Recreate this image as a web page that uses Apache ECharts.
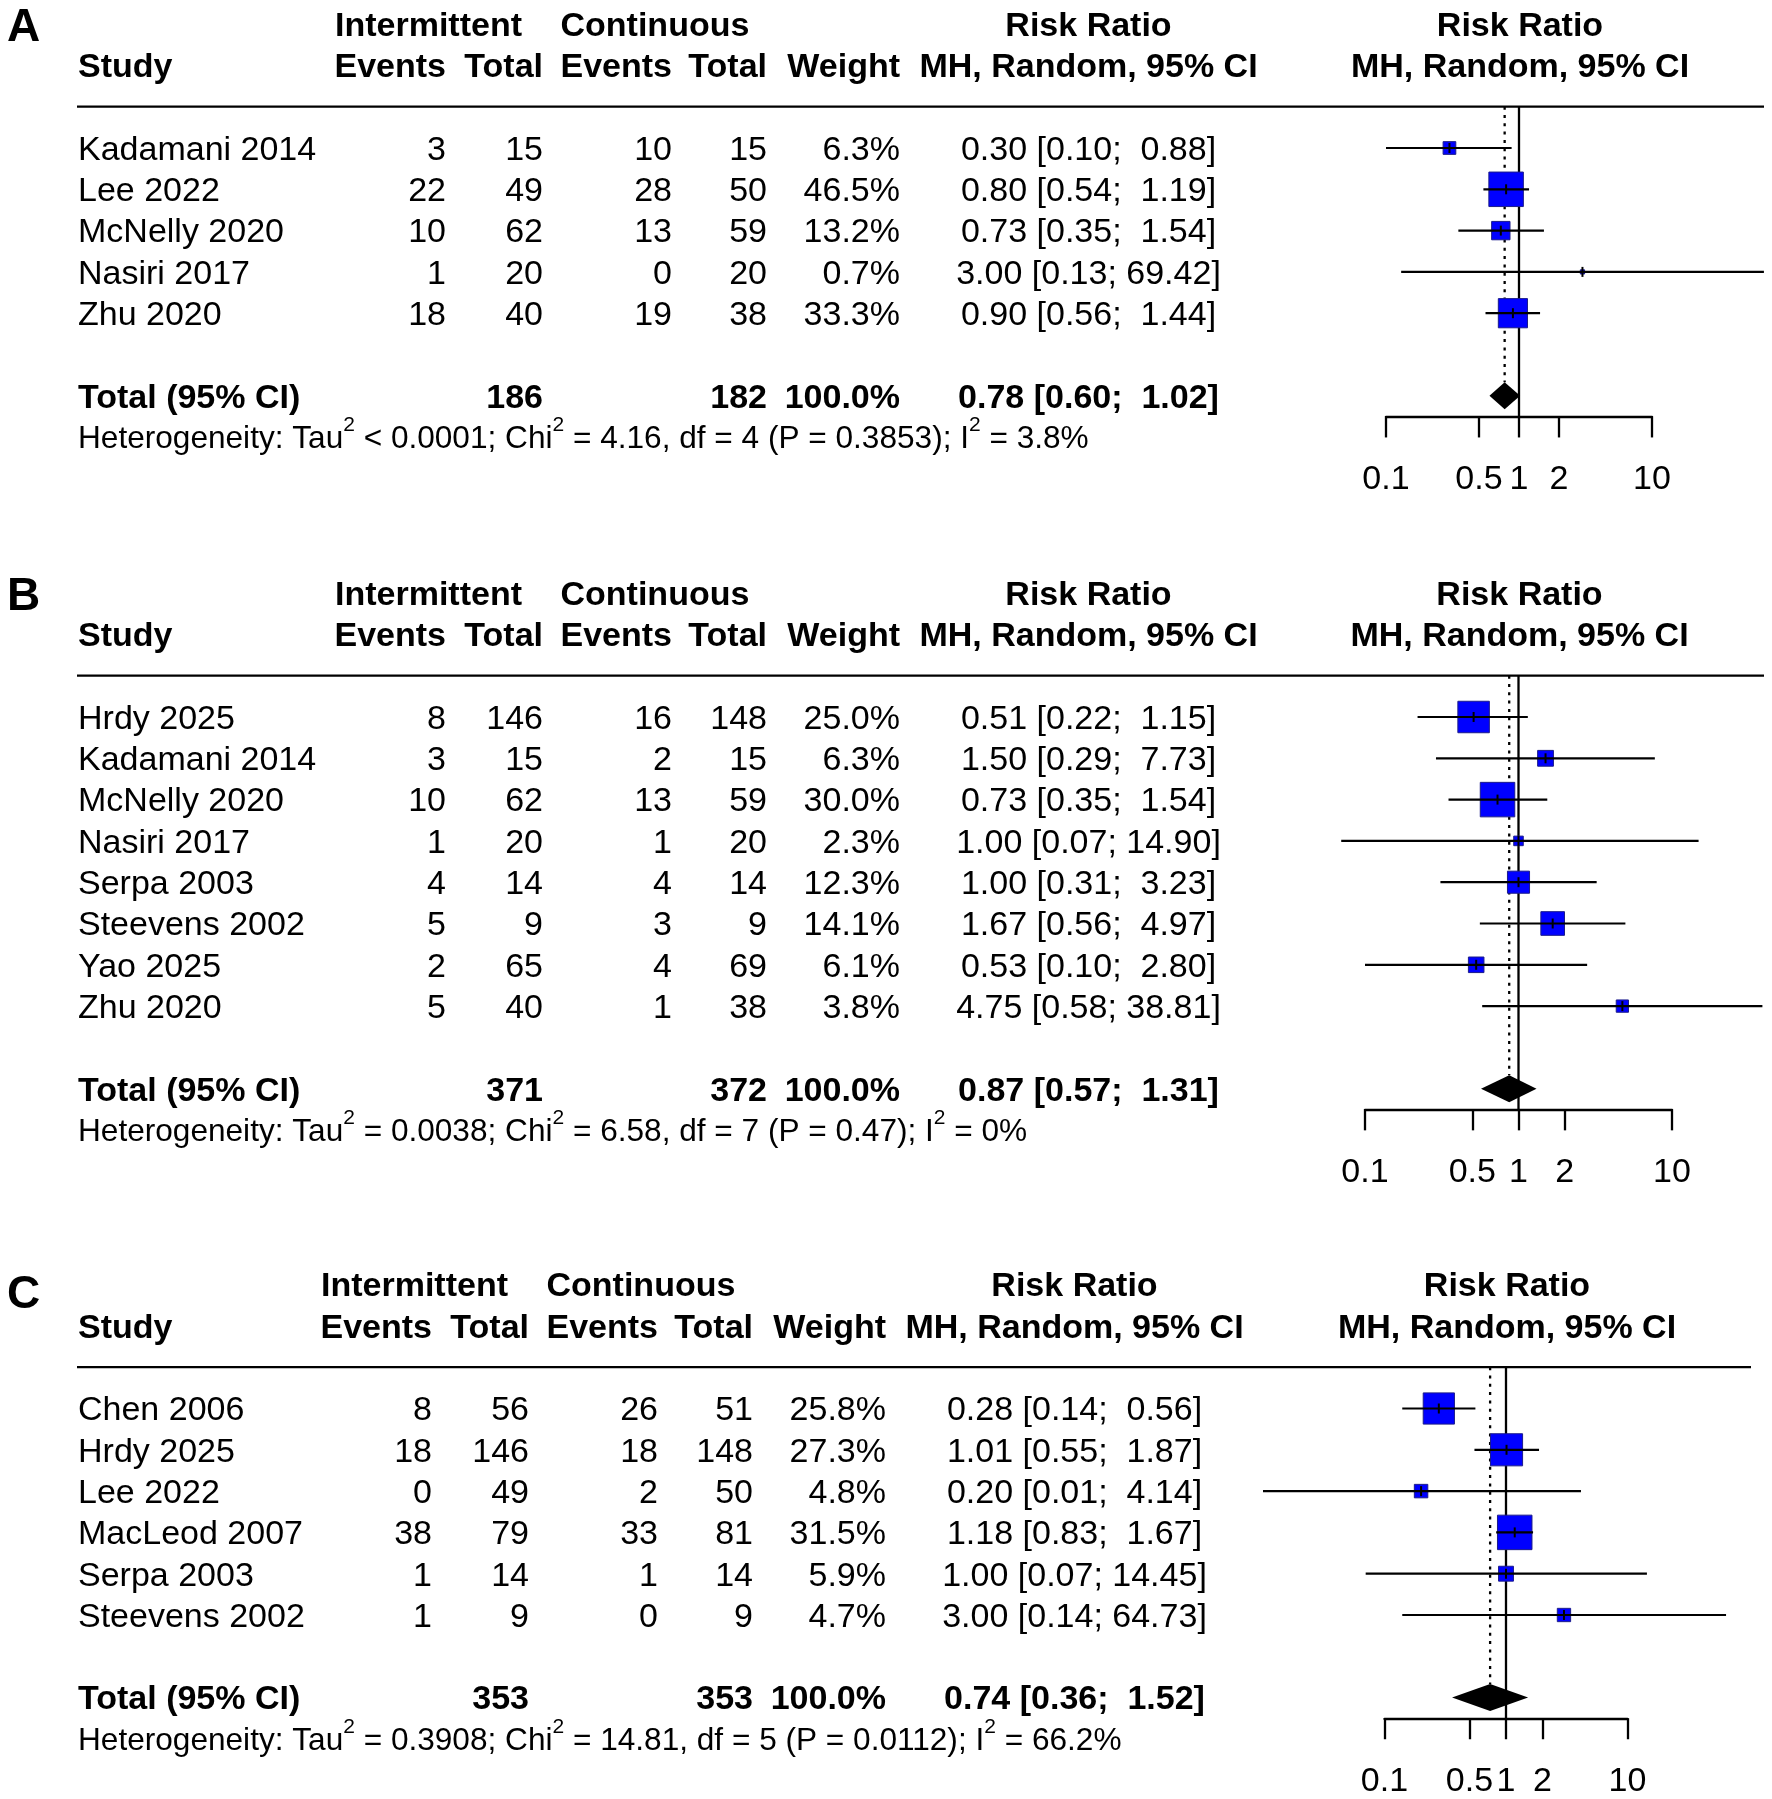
<!DOCTYPE html>
<html>
<head>
<meta charset="utf-8">
<script src="https://cdn.jsdelivr.net/npm/echarts@6/dist/echarts.min.js"></script>
<style>
html,body{margin:0;padding:0;background:#ffffff;}
#chart{width:1772px;height:1799px;}
</style>
</head>
<body>
<div id="chart"></div>
<script>
// ================= DATA =================
// Panel A
const studiesA   = ["Kadamani 2014", "Lee 2022", "McNelly 2020", "Nasiri 2017", "Zhu 2020"];
const intEventsA = [3, 22, 10, 1, 18];
const intTotalA  = [15, 49, 62, 20, 40];
const contEventsA= [10, 28, 13, 0, 19];
const contTotalA = [15, 50, 59, 20, 38];
const weightA    = [6.3, 46.5, 13.2, 0.7, 33.3];
const rrA        = [0.30, 0.80, 0.73, 3.00, 0.90];
const lowerA     = [0.10, 0.54, 0.35, 0.13, 0.56];
const upperA     = [0.88, 1.19, 1.54, 69.42, 1.44];
const totalA     = {int: 186, cont: 182, weight: 100.0, rr: 0.78, lo: 0.60, hi: 1.02};
const hetA       = "Heterogeneity: Tau² < 0.0001; Chi² = 4.16, df = 4 (P = 0.3853); I² = 3.8%";

// Panel B
const studiesB   = ["Hrdy 2025", "Kadamani 2014", "McNelly 2020", "Nasiri 2017", "Serpa 2003", "Steevens 2002", "Yao 2025", "Zhu 2020"];
const intEventsB = [8, 3, 10, 1, 4, 5, 2, 5];
const intTotalB  = [146, 15, 62, 20, 14, 9, 65, 40];
const contEventsB= [16, 2, 13, 1, 4, 3, 4, 1];
const contTotalB = [148, 15, 59, 20, 14, 9, 69, 38];
const weightB    = [25.0, 6.3, 30.0, 2.3, 12.3, 14.1, 6.1, 3.8];
const rrB        = [0.51, 1.50, 0.73, 1.00, 1.00, 1.67, 0.53, 4.75];
const lowerB     = [0.22, 0.29, 0.35, 0.07, 0.31, 0.56, 0.10, 0.58];
const upperB     = [1.15, 7.73, 1.54, 14.90, 3.23, 4.97, 2.80, 38.81];
const totalB     = {int: 371, cont: 372, weight: 100.0, rr: 0.87, lo: 0.57, hi: 1.31};
const hetB       = "Heterogeneity: Tau² = 0.0038; Chi² = 6.58, df = 7 (P = 0.47); I² = 0%";

// Panel C
const studiesC   = ["Chen 2006", "Hrdy 2025", "Lee 2022", "MacLeod 2007", "Serpa 2003", "Steevens 2002"];
const intEventsC = [8, 18, 0, 38, 1, 1];
const intTotalC  = [56, 146, 49, 79, 14, 9];
const contEventsC= [26, 18, 2, 33, 1, 0];
const contTotalC = [51, 148, 50, 81, 14, 9];
const weightC    = [25.8, 27.3, 4.8, 31.5, 5.9, 4.7];
const rrC        = [0.28, 1.01, 0.20, 1.18, 1.00, 3.00];
const lowerC     = [0.14, 0.55, 0.01, 0.83, 0.07, 0.14];
const upperC     = [0.56, 1.87, 4.14, 1.67, 14.45, 64.73];
const totalC     = {int: 353, cont: 353, weight: 100.0, rr: 0.74, lo: 0.36, hi: 1.52};
const hetC       = "Heterogeneity: Tau² = 0.3908; Chi² = 14.81, df = 5 (P = 0.0112); I² = 66.2%";

// Axis / labels
const axisTickValues = [0.1, 0.5, 1, 2, 10];
const refValue = 1;
const panelLetters = ["A", "B", "C"];
const groupHeaders = ["Intermittent", "Continuous"];
const colHeaders = ["Study", "Events", "Total", "Events", "Total", "Weight"];
const effectHeader = ["Risk Ratio", "MH, Random, 95% CI"];
const totalLabel = "Total (95% CI)";

// ================= LAYOUT =================
const W = 1772, H = 1799;
const FONT = "'Liberation Sans', Arial, Helvetica, sans-serif";
const RH = 41.3;             // row height (px)
const FS = 34;               // main font size
const HET_FS = 31.6;
const SUP_FS = 21;
const SUP_RAISE = 14;
const SQ = 34.5;             // side of the largest square
const DH = 13.5;             // diamond half height
const LW = 2.3;
const TDY = 2.5;             // text vertical nudge
const layouts = [
  {row0: 148,    x1: 1519,   dec: 133,   shift: 0,   ruleEnd: 1764, letterY: 28},
  {row0: 717,    x1: 1518.5, dec: 153.5, shift: 0,   ruleEnd: 1764, letterY: 597},
  {row0: 1408.5, x1: 1506,   dec: 121.5, shift: -14, ruleEnd: 1751, letterY: 1295}
];
const COLS = {study: 78, ie: 446, it: 543, ce: 672, ct: 767, w: 900, ci: 1088.5, grpI: 335, grpC: 560.5};

const panelsData = [
  {studies: studiesA, ie: intEventsA, it: intTotalA, ce: contEventsA, ct: contTotalA, w: weightA, rr: rrA, lo: lowerA, hi: upperA, tot: totalA, het: hetA},
  {studies: studiesB, ie: intEventsB, it: intTotalB, ce: contEventsB, ct: contTotalB, w: weightB, rr: rrB, lo: lowerB, hi: upperB, tot: totalB, het: hetB},
  {studies: studiesC, ie: intEventsC, it: intTotalC, ce: contEventsC, ct: contTotalC, w: weightC, rr: rrC, lo: lowerC, hi: upperC, tot: totalC, het: hetC}
];

const f2 = v => v.toFixed(2);
const ciText = (r, l, h) => f2(r) + " [" + f2(l) + "; " + f2(h).padStart(5, " ") + "]";
const lg = v => Math.log10(v);
const tickLogs = axisTickValues.map(v => +lg(v).toFixed(10));

function richHet(str) {
  return "{n|" + str.split("²").join("}{s|2}{n|") + "}";
}
const hetRich = {
  n: {fontSize: HET_FS, fontFamily: FONT, fill: "#000", lineHeight: 40},
  s: {fontSize: SUP_FS, fontFamily: FONT, fill: "#000", lineHeight: 22, padding: [0, 0, 2 * SUP_RAISE, 0]}
};

const grids = [], xAxes = [], yAxes = [], series = [], graphics = [];

panelsData.forEach((P, p) => {
  const L = layouts[p];
  const n = P.studies.length;
  const s = L.shift;
  const maxW = Math.max.apply(null, P.w);

  // ---------- table grid ----------
  const gT = grids.length;
  grids.push({left: 0, top: L.row0 - 3.5 * RH, width: W, height: (n + 6) * RH, containLabel: false, outerBoundsMode: "none"});
  xAxes.push({gridIndex: gT, type: "value", min: 0, max: W, show: false});
  yAxes.push({gridIndex: gT, type: "value", min: -3.5, max: n + 2.5, inverse: true, show: false});

  const cells = [];
  const add = (x, row, text, align, bold, extra) => cells.push(Object.assign({kind: "text", x, row, text, align, bold}, extra || {}));
  // header rows
  add(COLS.grpI + s, -3, groupHeaders[0], "left", true);
  add(COLS.grpC + s, -3, groupHeaders[1], "left", true);
  add(COLS.ci + s, -3, effectHeader[0], "center", true);
  add(L.x1 + 1, -3, effectHeader[0], "center", true);
  add(COLS.study, -2, colHeaders[0], "left", true);
  add(COLS.ie + s, -2, colHeaders[1], "right", true);
  add(COLS.it + s, -2, colHeaders[2], "right", true);
  add(COLS.ce + s, -2, colHeaders[3], "right", true);
  add(COLS.ct + s, -2, colHeaders[4], "right", true);
  add(COLS.w + s, -2, colHeaders[5], "right", true);
  add(COLS.ci + s, -2, effectHeader[1], "center", true);
  add(L.x1 + 1, -2, effectHeader[1], "center", true);
  cells.push({kind: "rule", x: COLS.study - 1, x2: L.ruleEnd, row: -1});
  // study rows
  P.studies.forEach((name, i) => {
    add(COLS.study, i, name, "left", false);
    add(COLS.ie + s, i, String(P.ie[i]), "right", false);
    add(COLS.it + s, i, String(P.it[i]), "right", false);
    add(COLS.ce + s, i, String(P.ce[i]), "right", false);
    add(COLS.ct + s, i, String(P.ct[i]), "right", false);
    add(COLS.w + s, i, P.w[i].toFixed(1) + "%", "right", false);
    add(COLS.ci + s, i, ciText(P.rr[i], P.lo[i], P.hi[i]), "center", false);
  });
  // total row
  add(COLS.study, n + 1, totalLabel, "left", true);
  add(COLS.it + s, n + 1, String(P.tot.int), "right", true);
  add(COLS.ct + s, n + 1, String(P.tot.cont), "right", true);
  add(COLS.w + s, n + 1, P.tot.weight.toFixed(1) + "%", "right", true);
  add(COLS.ci + s, n + 1, ciText(P.tot.rr, P.tot.lo, P.tot.hi), "center", true);
  // heterogeneity
  add(COLS.study, n + 2, richHet(P.het), "left", false, {rich: hetRich});

  series.push({
    type: "custom", coordinateSystem: "cartesian2d", xAxisIndex: gT, yAxisIndex: gT,
    clip: false, silent: true, z: 5,
    data: cells.map((c, i) => [c.x, c.row, i]),
    renderItem: function (params, api) {
      const c = cells[api.value(2)];
      const pt = api.coord([api.value(0), api.value(1)]);
      if (c.kind === "rule") {
        const pt2 = api.coord([c.x2, c.row]);
        return {type: "line", shape: {x1: pt[0], y1: pt[1], x2: pt2[0], y2: pt2[1]}, style: {stroke: "#000", lineWidth: LW}};
      }
      const style = {
        text: c.text, fill: "#000",
        font: (c.bold ? "bold " : "") + FS + "px " + FONT,
        align: c.align, textAlign: c.align,
        verticalAlign: "middle", textVerticalAlign: "middle"
      };
      if (c.rich) style.rich = c.rich;
      return {type: "text", x: pt[0], y: pt[1] + TDY, style: style};
    }
  });

  // ---------- forest grid ----------
  const gF = grids.length;
  grids.push({left: L.x1 - L.dec, top: L.row0 - RH, width: 2 * L.dec, height: (n + 2.5) * RH, containLabel: false, outerBoundsMode: "none"});
  xAxes.push({
    gridIndex: gF, type: "value", min: -1, max: 1, position: "bottom",
    axisLine: {show: true, onZero: false, lineStyle: {color: "#000", width: LW}},
    axisTick: {show: true, inside: false, length: 21, customValues: tickLogs, lineStyle: {color: "#000", width: LW}},
    axisLabel: {
      show: true, customValues: tickLogs, margin: 46.5, color: "#000", fontSize: FS, fontFamily: FONT,
      showMinLabel: true, showMaxLabel: true,
      formatter: v => String(+Math.pow(10, v).toPrecision(3))
    },
    splitLine: {show: false}
  });
  yAxes.push({gridIndex: gF, type: "value", min: -1, max: n + 1.5, inverse: true, show: false});

  // reference line at RR = 1
  series.push({
    type: "line", xAxisIndex: gF, yAxisIndex: gF, silent: true, z: 1,
    symbol: "none", animation: false,
    data: [[lg(refValue), -1], [lg(refValue), n + 1.5]],
    lineStyle: {color: "#000", width: LW}
  });

  // pooled estimate: dotted line + diamond
  series.push({
    type: "custom", coordinateSystem: "cartesian2d", xAxisIndex: gF, yAxisIndex: gF,
    clip: false, silent: true, z: 2,
    data: [[lg(P.tot.rr), n + 1, lg(P.tot.lo), lg(P.tot.hi)]],
    renderItem: function (params, api) {
      const c = api.coord([api.value(0), api.value(1)]);
      const top = api.coord([api.value(0), -1]);
      const l = api.coord([api.value(2), api.value(1)]);
      const h = api.coord([api.value(3), api.value(1)]);
      return {type: "group", children: [
        {type: "line", shape: {x1: c[0], y1: top[1], x2: c[0], y2: c[1] - DH},
         style: {stroke: "#000", lineWidth: LW, lineDash: [3, 5.3]}},
        {type: "polygon", shape: {points: [[l[0], c[1]], [c[0], c[1] - DH], [h[0], c[1]], [c[0], c[1] + DH]]},
         style: {fill: "#000"}}
      ]};
    }
  });

  // study estimates
  series.push({
    type: "custom", coordinateSystem: "cartesian2d", xAxisIndex: gF, yAxisIndex: gF,
    clip: false, silent: true, z: 3,
    data: P.rr.map((r, i) => [lg(r), i, lg(P.lo[i]), lg(P.hi[i]), P.w[i]]),
    renderItem: function (params, api) {
      const c = api.coord([api.value(0), api.value(1)]);
      const l = api.coord([api.value(2), api.value(1)]);
      const h = api.coord([api.value(3), api.value(1)]);
      const side = SQ * Math.sqrt(api.value(4) / maxW);
      const th = 5;
      return {type: "group", children: [
        {type: "rect", shape: {x: c[0] - side / 2, y: c[1] - side / 2, width: side, height: side},
         style: {fill: "#0000ff", stroke: "#1c1c8a", lineWidth: 1}},
        {type: "line", shape: {x1: l[0], y1: l[1], x2: h[0], y2: h[1]}, style: {stroke: "#000", lineWidth: 2.2}},
        {type: "line", shape: {x1: c[0], y1: c[1] - th, x2: c[0], y2: c[1] + th}, style: {stroke: "#000", lineWidth: 2}}
      ]};
    }
  });

  // panel letter
  graphics.push({
    type: "text", x: 7, y: L.letterY, silent: true,
    style: {text: panelLetters[p], fill: "#000", font: "bold 46px " + FONT,
            align: "left", textAlign: "left", verticalAlign: "middle", textVerticalAlign: "middle"}
  });
});

const chart = echarts.init(document.getElementById("chart"), null, {renderer: "canvas", width: W, height: H});
chart.setOption({
  backgroundColor: "#ffffff",
  animation: false,
  grid: grids,
  xAxis: xAxes,
  yAxis: yAxes,
  series: series,
  graphic: graphics
});
</script>
</body>
</html>
